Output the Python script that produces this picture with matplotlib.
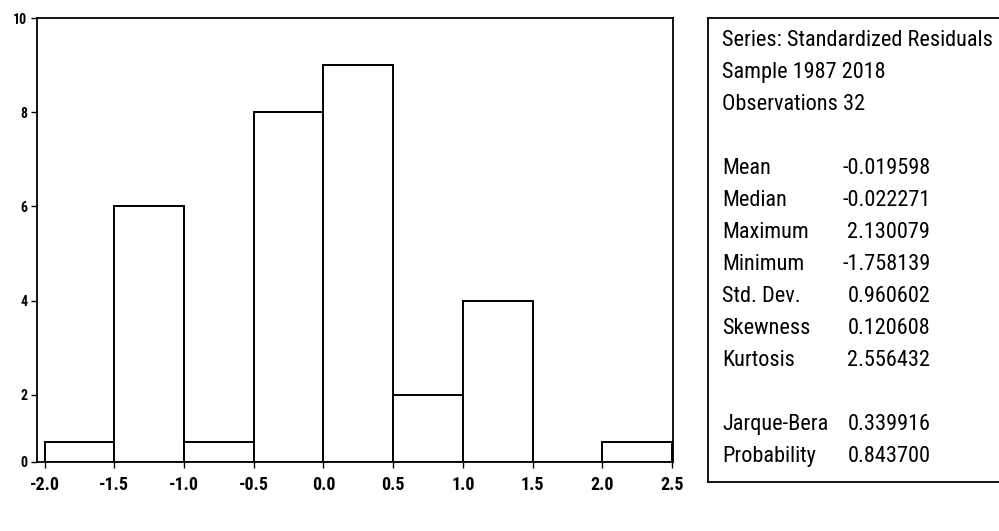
import numpy as np
import matplotlib.pyplot as plt

# histogram of standardized residuals (EViews style)
bin_left = [-2.0, -1.5, -1.0, -0.5, 0.0, 0.5, 1.0, 1.5, 2.0]
counts = [1, 6, 1, 8, 9, 2, 4, 0, 1]
bin_w = 0.5

x_ticks = [-2.0, -1.5, -1.0, -0.5, 0.0, 0.5, 1.0, 1.5, 2.0, 2.5]
y_ticks = [0, 2, 4, 6, 8, 10]

header = ["Series: Standardized Residuals", "Sample 1987 2018", "Observations 32"]
stat_names = ["Mean", "Median", "Maximum", "Minimum", "Std. Dev.",
              "Skewness", "Kurtosis", None, "Jarque-Bera", "Probability"]
stat_vals = ["-0.019598", "-0.022271", "2.130079", "-1.758139", "0.960602",
             "0.120608", "2.556432", None, "0.339916", "0.843700"]

plt.rcParams['font.family'] = ['Roboto Condensed', 'Archivo Narrow', 'DejaVu Sans']

# the scanned axis is squeezed near the bottom: 0-1 is short, 1-10 even
sc_v = [0, 1, 10]
sc_p = [0, 20, 443]
def fwd(v):
    return np.interp(v, sc_v, sc_p, left=-1, right=444)
def inv(p):
    return np.interp(p, sc_p, sc_v)

fig = plt.figure(figsize=(9.99, 5.31), dpi=100)
ax = fig.add_axes([0.037, 0.130, 0.637, 0.836])

ax.bar(bin_left, counts, width=bin_w, align='edge', color='white',
       edgecolor='black', linewidth=1.4)
ax.set_yscale('function', functions=(fwd, inv))
ax.set_xlim(-2.055, 2.51)
ax.set_ylim(0, 10)
ax.set_xticks(x_ticks)
ax.set_xticklabels(["%.1f" % v for v in x_ticks], fontsize=13, fontweight='bold')
ax.set_yticks(y_ticks)
ax.set_yticklabels([str(v) for v in y_ticks], fontsize=10, fontweight='bold')
ax.yaxis.set_minor_locator(plt.NullLocator())
ax.tick_params(direction='out', length=4, width=1, pad=3)
ax.tick_params(axis='x', pad=6)
for s in ax.spines.values():
    s.set_linewidth(1.3)

# stats box on the right
bx = fig.add_axes([0.709, 0.092, 0.32, 0.874])
bx.set_xlim(0, 1)
bx.set_ylim(0, 1)
bx.set_xticks([])
bx.set_yticks([])
for s in bx.spines.values():
    s.set_linewidth(1.3)

box_h = 464.0  # px height of box
box_w = 319.7
def ypos(py):
    return 1 - (py - 18) / box_h

lx = 14 / box_w
vx = 222 / box_w
row = 32
fs = 16
for i, t in enumerate(header):
    bx.text(lx, ypos(40 + row * i), t, fontsize=fs, va='center', ha='left')
for i, (n, v) in enumerate(zip(stat_names, stat_vals)):
    if n is None:
        continue
    py = 40 + row * (i + 4)
    bx.text(lx, ypos(py), n, fontsize=fs, va='center', ha='left')
    bx.text(vx, ypos(py), v, fontsize=fs, va='center', ha='right')

fig.savefig('out.png', dpi=100)
